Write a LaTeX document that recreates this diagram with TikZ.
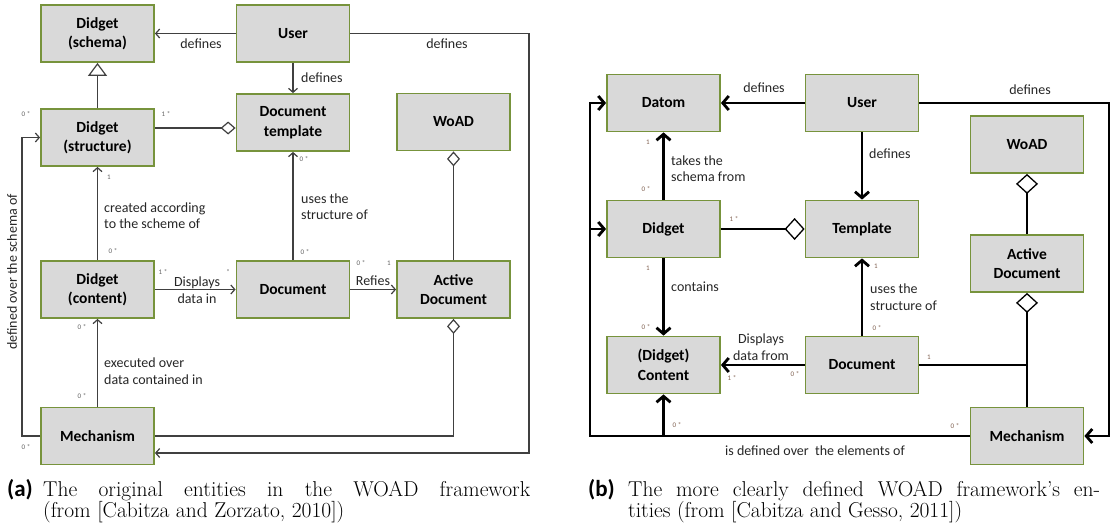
\documentclass[tikz,border=0pt]{standalone}
\usepackage{fontspec}
\usetikzlibrary{arrows.meta}
\newfontfamily\carlito{Carlito}
\definecolor{boxgray}{HTML}{D9D9D9}
\definecolor{boxgreen}{HTML}{77933C}
\definecolor{linegray}{HTML}{404040}
\definecolor{multgray}{HTML}{606060}
\definecolor{multbrown}{HTML}{7F5F4F}

\begin{document}
\begin{tikzpicture}[
  x=1pt, y=-1pt,                % <-- one unit = one pixel of the figure
  box/.style={draw=boxgreen, fill=boxgray, line width=1.8pt, minimum width=113pt,
    minimum height=57pt, inner sep=2pt, align=center,
    font=\carlito\bfseries\fontsize{15.5}{19.5}\selectfont},
  lbl/.style={font=\carlito\fontsize{14}{16.5}\selectfont, text=black!85, inner sep=0pt},
  amult/.style={font=\carlito\fontsize{7}{7}\selectfont, text=multgray, inner sep=0pt},
  bmult/.style={font=\carlito\fontsize{7}{7}\selectfont, text=multbrown, inner sep=0pt},
  aedge/.style={line width=1.2pt, draw=linegray},
  aarrow/.style={aedge, -{Straight Barb[length=4pt, width=9pt]}},
  aagg/.style={aedge, -{Diamond[open, length=15pt, width=13pt]}},
  ainh/.style={aedge, -{Triangle[open, length=13pt, width=19pt]}},
  bedge/.style={line width=2.8pt, draw=black},
  barrow/.style={bedge, -{Straight Barb[length=6pt, width=14pt]}},
  bagg/.style={bedge, -{Diamond[open, length=20pt, width=22pt, line width=1.3pt]}},
  captag/.style={font=\carlito\bfseries\fontsize{23}{21}\selectfont, anchor=base west, inner sep=0pt},
  captext/.style={font=\fontsize{21.5}{21}\selectfont, anchor=base west, inner sep=0pt, align=justify}
]
\useasboundingbox (0,0) rectangle (1115,530);

% ===================== LEFT: original entities =====================
\begin{scope}
  % Boxes
  \node[box] (aschema)  at (97.5,33.5)  {Didget\\(schema)};
  \node[box] (auser)    at (293,33.5)   {User};
  \node[box] (astruct)  at (97.5,137.5) {Didget\\(structure)};
  \node[box] (atempl)   at (293,122.5)  {Document\\template};
  \node[box] (awoad)    at (453.5,122)  {WoAD};
  \node[box] (acontent) at (97.5,289.5) {Didget\\(content)};
  \node[box] (adoc)     at (293,289.5)  {Document};
  \node[box] (aactive)  at (453.5,289.5) {Active\\Document};
  \node[box] (amech)    at (97.5,436)   {Mechanism};

  \coordinate (aloop) at (529,453);
  \coordinate (aleft) at (22,290);

  % Edges
  \draw[aarrow] (auser) -- (aschema);
  \draw[aarrow] (auser) -- (atempl);
  \draw[aarrow] (auser.east) -| (aloop) -- (amech.east |- aloop);

  \draw[ainh] (astruct) -- (aschema);
  \draw[aagg] ([yshift=9.5pt]astruct.east) -- ([yshift=-5.5pt]atempl.west);

  \draw[aarrow] (acontent) -- (astruct);
  \draw[aarrow] (acontent) -- (adoc);
  \draw[aarrow] (adoc) -- (atempl);
  \draw[aarrow] (adoc) -- (aactive);
  \draw[aagg] (aactive) -- (awoad);

  \draw[aarrow] (amech) -- (acontent);
  \draw[aarrow] (amech.west) -| (aleft) |- (astruct.west);
  \draw[aagg] (amech.east) -| (aactive.south);

  % Labels
  \node[lbl] at (201,44) {defines};
  \node[lbl, anchor=west] at (301,78) {defines};
  \node[lbl] at (447,44) {defines};
  \node[lbl, anchor=west, align=left] at (104,215.5) {created according\\to the scheme of};
  \node[lbl, anchor=west, align=left] at (301,206.5) {uses the\\structure of};
  \node[lbl, align=center] at (197,290) {Displays\\data in};
  \node[lbl] at (373,281) {Refies};
  \node[lbl, anchor=west, align=left] at (104,371) {executed over\\data contained in};
  \node[lbl, rotate=90] at (12,272) {defined over the schema of};

  % Multiplicities
  \node[amult] at (26,114)  {0 *};
  \node[amult] at (166,114) {1 *};
  \node[amult] at (109,177) {1};
  \node[amult] at (304,159) {0 *};
  \node[amult] at (113,251) {0 *};
  \node[amult] at (163,272) {1 *};
  \node[amult] at (228,272) {*};
  \node[amult] at (305,252) {0 *};
  \node[amult] at (361,263) {0 *};
  \node[amult] at (389,263) {1};
  \node[amult] at (82,327)  {0 *};
  \node[amult] at (82,396)  {0 *};
  \node[amult] at (26,447)  {0 *};

  % Caption
  \node[captag] (acaptag) at (7,496) {(a)};
  \node[captext, text width=487pt] (acaptext) at (43,496)
    {The original entities in the WOAD framework\linebreak (from [Cabitza and Zorzato, 2010])};
\end{scope}

% ===================== RIGHT: clearer entities =====================
\begin{scope}
  % Boxes
  \node[box] (bdatom)   at (663.5,103)  {Datom};
  \node[box] (buser)    at (862,103)    {User};
  \node[box] (bwoad)    at (1027,144.5) {WoAD};
  \node[box] (bdidget)  at (663.5,229)  {Didget};
  \node[box] (btempl)   at (862,229)    {Template};
  \node[box] (bactive)  at (1027,263.5) {Active\\Document};
  \node[box] (bcontent) at (663.5,365)  {(Didget)\\Content};
  \node[box] (bdoc)     at (862,365)    {Document};
  \node[box] (bmech)    at (1027,436)   {Mechanism};

  \coordinate (bloop) at (1109,436);
  \coordinate (bleft) at (590,300);

  % Edges
  \draw[barrow] (buser) -- (bdatom);
  \draw[barrow] (buser) -- (btempl);
  \draw[barrow] (buser.east) -| (bloop) -- (bmech.east);

  \draw[barrow] (bdidget) -- (bdatom);
  \draw[bagg] (bdidget) -- (btempl);
  \draw[barrow] (bdidget) -- (bcontent);
  \draw[barrow] (bdoc) -- (bcontent);
  \draw[barrow] (bdoc) -- (btempl);

  \draw[bagg] (bactive) -- (bwoad);
  \draw[bagg] (bmech) -- (bactive);
  \draw[bedge] (bdoc.east) -- (bdoc.east -| bmech.north);

  \draw[barrow] (bmech.west) -| (bleft) |- (bdatom.west);
  \draw[barrow] (bleft |- bdidget) -- (bdidget.west);
  \draw[barrow] (bcontent.south |- bmech) -- (bcontent.south);

  % Labels
  \node[lbl] at (764,88) {defines};
  \node[lbl, anchor=west] at (869,154) {defines};
  \node[lbl] at (1030,90) {defines};
  \node[lbl, anchor=west, align=left] at (671,168.5) {takes the\\schema from};
  \node[lbl, anchor=west] at (671,287) {contains};
  \node[lbl, align=center] at (761,347) {Displays\\data from};
  \node[lbl, anchor=west, align=left] at (870,297) {uses the\\structure of};
  \node[lbl] at (815,451) {is defined over \ the elements of};

  % Multiplicities
  \node[bmult] at (648,142) {1};
  \node[bmult] at (646,189) {0 *};
  \node[bmult] at (734,219) {1 *};
  \node[bmult] at (648,268) {1};
  \node[bmult] at (646,327) {0 *};
  \node[bmult] at (732,378) {1 *};
  \node[bmult] at (795,374) {0 *};
  \node[bmult] at (677,425) {0 *};
  \node[bmult] at (876,266) {1};
  \node[bmult] at (877,328) {0 *};
  \node[bmult] at (929,357) {1};
  \node[bmult] at (955,426) {0 *};

  % Caption
  \node[captag] (bcaptag) at (588,496) {(b)};
  \node[captext, text width=472pt] (bcaptext) at (628,496)
    {The more clearly defined WOAD framework's en-\linebreak tities (from [Cabitza and Gesso, 2011])};
\end{scope}

\end{tikzpicture}
\end{document}
